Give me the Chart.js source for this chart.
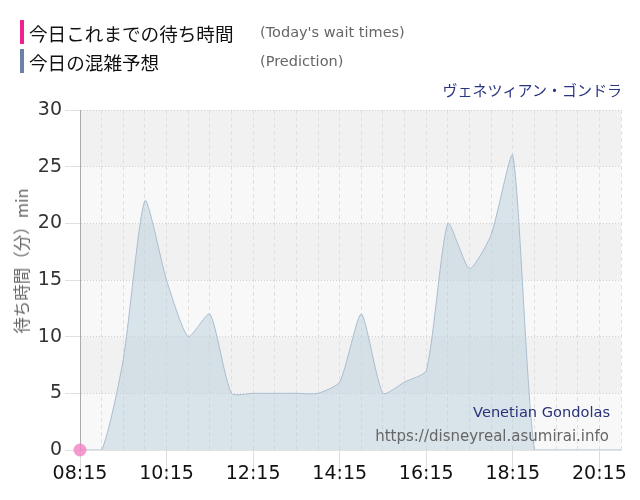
<!DOCTYPE html>
<html>
<head>
<meta charset="utf-8">
<script src="https://cdn.jsdelivr.net/npm/chart.js@4/dist/chart.umd.min.js"></script>
<style>
  body { margin: 0; background: #fff; }
  #wrap { position: relative; width: 640px; height: 500px; }
  #chart { position: absolute; left: 0; top: 0; }
  .lg { position: absolute; left: 20px; height: 24px; display: flex; align-items: center; }
  .lg .bar { width: 4px; height: 24px; margin-right: 5px; }
  .lg .jp { font-family: "Noto Sans CJK JP"; font-size: 18.6px; color: #111; width: 231px; }
  .lg .en { font-family: "DejaVu Sans"; font-size: 14.5px; color: #666; }
  .txt { position: absolute; white-space: nowrap; }
  #ytitle { position: absolute; left: 21px; top: 261px; transform: translate(-50%, -50%) rotate(-90deg);
            font-family: "Noto Sans CJK JP"; font-size: 16.5px; color: #666; white-space: nowrap; }
</style>
</head>
<body>
<div id="wrap">
  <canvas id="chart" width="640" height="500"></canvas>
  <div class="lg" style="top:20px"><div class="bar" style="background:#f0208e"></div><span class="jp">今日これまでの待ち時間</span><span class="en">(Today's wait times)</span></div>
  <div class="lg" style="top:49px"><div class="bar" style="background:#6a82a8"></div><span class="jp">今日の混雑予想</span><span class="en">(Prediction)</span></div>
  <div class="txt" style="right:18px; top:79px; font-family:'Noto Sans CJK JP'; font-size:15px; color:#2a3580;">ヴェネツィアン・ゴンドラ</div>
  <div class="txt" style="right:30px; top:403px; font-family:'DejaVu Sans'; font-size:14.6px; color:#2a3278;">Venetian Gondolas</div>
  <div class="txt" style="right:31px; top:427px; font-family:'DejaVu Sans'; font-size:15px; color:#666;">https://disneyreal.asumirai.info</div>
  <div id="ytitle">待ち時間（分）min</div>
</div>
<script>
// prediction, every 30 min from 08:15
const predTimes = ['08:15','08:45','09:15','09:45','10:15','10:45','11:15','11:45','12:15','12:45','13:15','13:45','14:15',
                   '14:45','15:15','15:45','16:15','16:45','17:15','17:45','18:15','18:45','19:15','19:45','20:15','20:45'];
const predValues = [0, 0, 8, 22, 15, 10, 12, 5, 5, 5, 5, 5, 6,
                    12, 5, 6, 7, 20, 16, 19, 26, 0, 0, 0, 0, 0];

// today's actual wait times so far
const todayTimes = ['08:15'];
const todayValues = [0];

const xTickLabels = ['08:15','10:15','12:15','14:15','16:15','18:15','20:15'];
const yTickValues = [0, 5, 10, 15, 20, 25, 30];

const toMin = t => { const p = t.split(':'); return +p[0] * 60 + +p[1]; };
const labelAt = {};
xTickLabels.forEach(l => { labelAt[toMin(l)] = l; });

const xMin = toMin(predTimes[0]);
const xMax = toMin(predTimes[predTimes.length - 1]);

// alternating horizontal bands behind the plot
const bandPlugin = {
    id: 'bands',
    beforeDraw(chart) {
        const { ctx, chartArea: a, scales: { y } } = chart;
        ctx.save();
        for (let i = 0; i < yTickValues.length - 1; i++) {
            const top = y.getPixelForValue(yTickValues[i + 1]);
            const bot = y.getPixelForValue(yTickValues[i]);
            ctx.fillStyle = (i % 2 === 0) ? '#f8f8f8' : '#f1f1f1';
            ctx.fillRect(a.left, top, a.right - a.left, bot - top);
        }
        ctx.restore();
    }
};

new Chart(document.getElementById('chart').getContext('2d'), {
    type: 'line',
    data: {
        datasets: [
            {
                label: '今日これまでの待ち時間',
                data: todayTimes.map((t, i) => ({ x: toMin(t), y: todayValues[i] })),
                borderColor: 'rgba(240,110,185,0.8)',
                backgroundColor: 'rgba(242,130,195,0.8)',
                pointRadius: 6.5,
                pointBorderWidth: 0,
                showLine: false,
                clip: false
            },
            {
                label: '今日の混雑予想',
                data: predTimes.map((t, i) => ({ x: toMin(t), y: predValues[i] })),
                borderColor: 'rgba(165,188,204,0.95)',
                backgroundColor: 'rgba(185,205,220,0.5)',
                borderWidth: 1,
                fill: 'origin',
                tension: 0.2,
                pointRadius: 0
            }
        ]
    },
    options: {
        responsive: false,
        animation: false,
        layout: { padding: { top: 110, right: 19, left: 0, bottom: 0 } },
        plugins: {
            legend: { display: false },
            tooltip: { enabled: false }
        },
        scales: {
            x: {
                type: 'linear',
                min: xMin,
                max: xMax,
                afterFit: s => { s.height = 50; },
                afterBuildTicks: s => {
                    s.ticks = [];
                    for (let v = xMin; v <= xMax; v += 30) s.ticks.push({ value: v });
                },
                ticks: {
                    autoSkip: false,
                    maxRotation: 0,
                    padding: -17,
                    color: '#111',
                    font: { family: 'DejaVu Sans', size: 19 },
                    callback: v => labelAt[v] || ''
                },
                grid: {
                    color: '#e0e0e0',
                    tickLength: 30,
                    tickColor: c => (c.tick && labelAt[c.tick.value]) ? '#dcdcdc' : 'rgba(0,0,0,0)'
                },
                border: { display: true, color: '#e2e2e2', dash: [4, 3] }
            },
            y: {
                min: 0,
                max: 30,
                afterFit: s => { s.width = 80; },
                afterBuildTicks: s => { s.ticks = yTickValues.map(v => ({ value: v })); },
                ticks: {
                    padding: 3,
                    color: '#333',
                    font: { family: 'DejaVu Sans', size: 19 }
                },
                grid: {
                    color: '#d0d0d0',
                    tickLength: 15,
                    tickColor: '#e0e0e0'
                },
                border: { display: true, color: '#aaa', dash: [1, 2] }
            }
        }
    },
    plugins: [bandPlugin]
});
</script>
</body>
</html>
